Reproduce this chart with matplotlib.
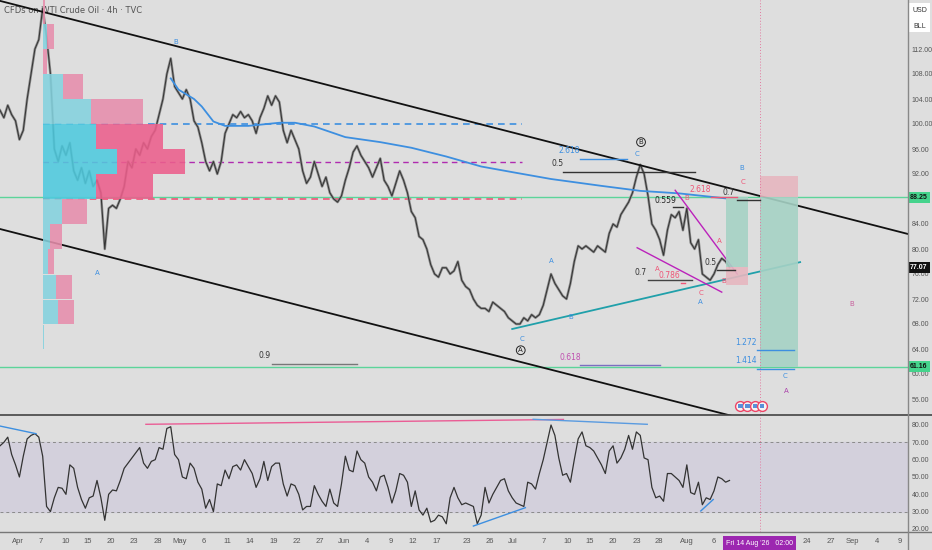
import numpy as np
import matplotlib.pyplot as plt
from matplotlib.patches import Rectangle
from matplotlib.lines import Line2D

BG = '#dedede'
NARROW = ['Liberation Sans Narrow', 'Liberation Sans', 'DejaVu Sans']

# price closes, one value every half trading day (x = 0.5 * index, in trading days)
close = [102.2, 101, 103, 101.5, 100.5, 97.5, 99, 104, 108, 112,
         113.5, 118.5, 114, 108, 96, 94, 96.5, 95, 97, 92.5,
         91, 93, 90.5, 92.5, 90, 91, 89, 80, 86.5, 87,
         86.5, 88, 90, 94, 93, 96, 95, 97, 96, 98,
         99, 101.5, 104, 108, 110.5, 106, 105, 104, 105.5, 104,
         100.5, 99.5, 97, 94, 92.5, 94, 92, 94, 98.5, 100,
         101.5, 101, 102, 101, 101.5, 100.5, 98.5, 101, 102.5, 104.5,
         103, 104.5, 103.5, 99, 97, 99, 97.5, 96, 92.5, 90.5,
         91.5, 94, 92, 90, 91.5, 89, 88, 87.5, 88.5, 91,
         93, 95.5, 96.5, 95, 94, 93, 91.5, 93, 94.5, 91,
         90, 88.5, 90.5, 92.5, 91, 89, 86, 85, 82, 81.5,
         80, 77.5, 76, 75.5, 77, 77, 76, 76.5, 78, 75,
         74, 73.5, 72, 71, 70.5, 70.5, 70, 71.5, 71, 70.5,
         70, 69, 68.5, 68, 68, 69, 68.5, 69.5, 69, 69.5,
         71, 73.5, 76, 74.5, 73.5, 72.5, 72, 74.5, 78, 80.5,
         80, 80.5, 80, 79.5, 80.5, 80, 79.5, 82.5, 84, 83.5,
         85.5, 86.5, 87.5, 89, 91.5, 93.5, 92, 88.5, 84, 83,
         81.5, 79, 83, 85.5, 85, 86, 83, 86.5, 81, 80,
         81.5, 76, 75.5, 75, 76, 77.5, 78.5, 78, 77.1]

rsi = [68, 70, 73, 63, 57, 50, 62, 72, 74, 75,
       73, 62, 33, 30, 38, 44, 43.5, 40, 57, 55,
       44, 37, 32, 38, 39, 48, 38, 25, 40, 42.5,
       42, 48, 55, 58, 61, 64, 67, 58, 55, 59,
       60, 67, 66, 78, 79, 63, 60, 50, 49, 58,
       55, 47, 43, 32, 37, 30, 46, 45, 54, 49,
       56, 57, 54, 60, 56, 52, 44, 49, 59, 48,
       56, 58, 58, 46, 39, 46, 45, 40, 31, 33,
       33, 45, 40, 36, 33, 43, 35, 33, 46, 62,
       54, 53, 65, 60, 58, 50, 47, 42, 50, 51,
       44, 35, 42, 52, 51, 47, 33, 42, 31, 28,
       32, 24, 25, 28, 27, 23, 38, 44, 38, 34,
       35, 34, 33, 23, 28, 44, 35, 40, 44, 48,
       49, 42, 38, 35, 34, 33, 47, 46, 43, 52,
       60, 70, 80, 74, 61, 51, 52, 47, 60, 72,
       76, 68, 67, 65, 61, 57, 52, 65, 68, 58,
       61, 66, 74, 66, 76, 74, 61, 60, 44, 38,
       39, 36, 52, 52, 50, 48, 44, 57, 41, 40,
       47, 34, 38, 37, 42, 50, 49, 47, 48]

# moving average (read at a few half-day indices)
ma_idx = [44, 46, 50, 52, 55, 58, 64, 72, 76, 81, 89, 98, 106, 115, 124, 132, 142, 155, 165, 175, 187]
ma_val = [107.3, 105.5, 104, 102.8, 100.4, 99.7, 99.7, 100.2, 100.2, 99.6, 97.9, 97.1,
          96.2, 94.8, 93.2, 92.3, 91.2, 90.1, 89.3, 88.9, 88.1]

# volume profile rows (bottom price of each 4-dollar row)
vp_low = [116, 112, 108, 104, 100, 96, 92, 88, 84, 80, 76, 72, 68, 64]
vp_up = [0.5, 4, 0.5, 20, 48, 53, 74, 53, 19, 7, 5, 13, 15, 1.5]
vp_down = [1.5, 7, 3.5, 20, 52, 67, 68, 57, 25, 12, 6, 16, 16, 0]

levels_green = [88.25, 61.16]
last_price = 77.07
price_ticks = [56, 60, 64, 68, 72, 76, 80, 84, 92, 96, 100, 104, 108, 112]

xt_pos = [2.3, 5.3, 8.4, 11.3, 14.3, 17.3, 20.4, 23.2, 26.3, 29.3, 32.2, 35.3, 38.3, 41.2,
          44.3, 47.3, 50.3, 53.2, 56.3, 60.2, 63.1, 66.1, 70.0, 73.1, 76.0, 79.0, 82.1, 84.9,
          88.5, 92.0, 104.0, 107.0, 109.9, 113.0, 116.0]
xt_lab = ['Apr', '7', '10', '15', '20', '23', '28', 'May', '6', '11', '14', '19', '22', '27',
          'Jun', '4', '9', '12', '17', '23', '26', 'Jul', '7', '10', '15', '20', '23', '28',
          'Aug', '6', '24', '27', 'Sep', '4', '9']

fig = plt.figure(figsize=(9.32, 5.5), dpi=100, facecolor=BG)
ax = fig.add_axes([0, 1 - 415 / 550, 908 / 932, 415 / 550], facecolor=BG)
axr = fig.add_axes([0, 1 - 532 / 550, 908 / 932, 117 / 550], facecolor=BG)
ax.set_xlim(0, 117)
ax.set_ylim(53.44, 119.84)
axr.set_xlim(0, 117)
axr.set_ylim(18.26, 85.77)
for a in (ax, axr):
    for s in a.spines.values():
        s.set_visible(False)

# ---- price pane
x = 0.5 * np.arange(len(close))
ax.plot(x, close, color='#8a8a8a', lw=1.8, zorder=3)
ax.plot(x, close, color='#333333', lw=0.7, zorder=3)
ax.plot(0.5 * np.array(ma_idx), ma_val, color='#3d8fe0', lw=1.3, zorder=4)

# channel
ax.plot([0, 117], [119.7, 82.4], color='#111', lw=1.3, zorder=5)
ax.plot([0, 117], [83.2, 46.1], color='#111', lw=1.3, zorder=5)

for lv in levels_green:
    ax.axhline(lv, color='#5cd49a', lw=1.0, zorder=2)

ax.plot([5.54, 67.3], [100, 100], color='#3d8fe0', lw=1.2, ls=(0, (4, 3)), zorder=2)
ax.plot([5.54, 67.3], [93.9, 93.9], color='#b02bb0', lw=1.0, ls=(0, (4, 3)), zorder=2)
ax.plot([5.54, 67.3], [88.0, 88.0], color='#ee5577', lw=1.2, ls=(0, (4, 3)), zorder=2)

# volume profile
for lo, up, dn in zip(vp_low, vp_up, vp_down):
    inside = 88 <= lo < 100
    cu = '#4fcade' if inside else '#84d2de'
    cd = '#ec5f8c' if inside else '#e78eac'
    ax.add_patch(Rectangle((5.54, lo + 0.08), up / 7.76, 3.84, fc=cu, ec='none', alpha=0.88, zorder=6))
    ax.add_patch(Rectangle((5.54 + up / 7.76, lo + 0.08), dn / 7.76, 3.84, fc=cd, ec='none', alpha=0.88, zorder=6))

# teal trendline and wedge
ax.plot([66.0, 103.1], [67.2, 77.9], color='#20a0aa', lw=1.3, zorder=5)
ax.plot([87.0, 95.0], [89.4, 76.0], color='#bb22bb', lw=1.0, zorder=5)
ax.plot([82.1, 93.0], [80.2, 73.1], color='#bb22bb', lw=1.0, zorder=5)

# position boxes
ax.add_patch(Rectangle((93.6, 77.1), 2.8, 88.25 - 77.1, fc='#a6d2c5', ec='none', alpha=0.9, zorder=6))
ax.add_patch(Rectangle((93.6, 74.2), 2.8, 77.1 - 74.2, fc='#e6b7bf', ec='none', alpha=0.9, zorder=6))
ax.add_patch(Rectangle((97.9, 61.16), 4.9, 88.25 - 61.16, fc='#a6d2c5', ec='none', alpha=0.9, zorder=6))
ax.add_patch(Rectangle((97.9, 88.25), 4.9, 91.7 - 88.25, fc='#e6b7bf', ec='none', alpha=0.9, zorder=6))
for a in (ax, axr):
    a.axvline(97.9, color='#e27aa0', lw=0.7, ls=(0, (1, 2)), zorder=7)

# fib segments: (x0, x1, y, color)
segs = [(72.6, 89.6, 92.3, '#333'), (74.7, 80.8, 94.4, '#3d8fe0'), (86.7, 88.0, 86.7, '#333'),
        (91.6, 95.0, 88.3, '#ee5577'), (95.0, 97.9, 87.8, '#333'), (83.5, 89.2, 75.0, '#444'),
        (87.8, 88.3, 74.6, '#ee5577'), (92.4, 94.7, 76.6, '#333'), (35.1, 46.0, 61.6, '#777'),
        (74.7, 85.1, 61.4, '#7b6fc0'), (97.6, 102.3, 63.8, '#3d8fe0'), (97.6, 102.3, 60.8, '#3d8fe0')]
for x0, x1, yv, c in segs:
    ax.plot([x0, x1], [yv, yv], color=c, lw=1.0, zorder=7)

fib_txt = [(71.9, 93.6, '0.5', '#333'), (73.4, 95.7, '2.618', '#3d8fe0'), (85.7, 87.8, '0.559', '#222'),
           (90.2, 89.6, '2.618', '#ee5577'), (93.9, 89.1, '0.7', '#333'), (82.5, 76.3, '0.7', '#333'),
           (86.3, 75.7, '0.786', '#ee5577'), (91.6, 77.9, '0.5', '#333'), (34.1, 62.9, '0.9', '#333'),
           (73.5, 62.6, '0.618', '#c050b0'), (96.1, 65.0, '1.272', '#3d8fe0'), (96.1, 62.2, '1.414', '#3d8fe0')]
for xx, yy, t, c in fib_txt:
    ax.text(xx, yy, t, color=c, fontsize=5.5, ha='center', va='center', zorder=8)

waves = [(22.6, 113.1, 'B', '#3d8fe0'), (12.6, 76.2, 'A', '#3d8fe0'), (67.3, 65.6, 'C', '#3d8fe0'),
         (82.1, 95.2, 'C', '#3d8fe0'), (71.0, 78.1, 'A', '#3d8fe0'), (73.5, 69.1, 'B', '#3d8fe0'),
         (84.7, 76.8, 'A', '#ee5577'), (88.5, 88.2, 'B', '#ee5577'), (92.7, 81.3, 'A', '#ee5577'),
         (90.3, 73.0, 'C', '#ee5577'), (90.3, 71.5, 'A', '#3d8fe0'), (93.2, 74.9, 'B', '#ee5577'),
         (95.6, 93.0, 'B', '#3d8fe0'), (95.7, 90.7, 'C', '#ee5577'), (109.7, 71.2, 'B', '#c8609e'),
         (101.2, 59.7, 'C', '#3d8fe0'), (101.3, 57.3, 'A', '#aa40aa')]
for xx, yy, t, c in waves:
    ax.text(xx, yy, t, color=c, fontsize=5, ha='center', va='center', zorder=8)

for xx, yy, t in [(67.1, 63.8, 'A'), (82.6, 97.1, 'B')]:
    ax.text(xx, yy, t, color='#222', fontsize=5, ha='center', va='center', zorder=8,
            bbox=dict(boxstyle='circle,pad=0.2', fc='none', ec='#222', lw=0.7))

# economic event icons
ev_x = [95.4, 96.3, 97.3, 98.2]
ax.scatter(ev_x, [54.9] * 4, s=50, marker='o', fc='#f4f4f4', ec='#ee4466', lw=1.0, zorder=9, clip_on=False)
ax.scatter(ev_x, [54.9] * 4, s=10, marker='s', fc='#5a8fd8', ec='none', zorder=10, clip_on=False)

# right axis
ax.set_yticks(price_ticks)
ax.set_yticklabels([f'{v:.2f}' for v in price_ticks], family=NARROW)
ax.yaxis.tick_right()
ax.tick_params(axis='y', length=0, pad=2.5, labelsize=5, labelcolor='#555')
ax.set_xticks([])

tr = ax.get_yaxis_transform()
for lv in levels_green:
    ax.text(1.012, lv, f'{lv:.2f}', transform=tr, fontsize=5, ha='center', va='center', family=NARROW,
            color='#111', fontweight='bold', zorder=20, clip_on=False,
            bbox=dict(boxstyle='square,pad=0.3', fc='#45d38c', ec='none'))
ax.text(1.012, last_price, f'{last_price:.2f}', transform=tr, fontsize=5, ha='center', va='center',
        family=NARROW, color='white', fontweight='bold', zorder=20, clip_on=False,
        bbox=dict(boxstyle='square,pad=0.3', fc='#111', ec='none'))

ax.text(0.004, 0.975, 'CFDs on WTI Crude Oil · 4h · TVC', transform=ax.transAxes,
        fontsize=6, color='#555', ha='left', va='center', zorder=1)

# ---- RSI pane
axr.axhspan(30, 70, color='#d3d0dc', zorder=0)
for lv in (70, 30):
    axr.axhline(lv, color='#8a8a8a', lw=0.7, ls=(0, (3, 3)), zorder=1)
axr.plot(x, rsi, color='#333', lw=0.9, zorder=3)
axr.plot([0, 4.64], [79.4, 75.0], color='#3d8fe0', lw=1.0, zorder=4)
axr.plot([18.8, 72.6], [80.4, 83.2], color='#ea5d95', lw=1.0, zorder=4)
axr.plot([68.7, 83.4], [83.3, 80.4], color='#5a9be0', lw=1.0, zorder=4)
axr.plot([61.0, 67.7], [21.7, 32.3], color='#3d8fe0', lw=1.0, zorder=4)
axr.plot([90.3, 91.9], [30.4, 37.0], color='#3d8fe0', lw=1.0, zorder=4)

axr.set_yticks(range(20, 81, 10))
axr.set_yticklabels([f'{v:.2f}' for v in range(20, 81, 10)], family=NARROW)
axr.yaxis.tick_right()
axr.tick_params(axis='y', length=0, pad=2.5, labelsize=5, labelcolor='#555')
axr.set_xticks(xt_pos)
axr.set_xticklabels(xt_lab, family=NARROW)
axr.tick_params(axis='x', length=0, pad=4, labelsize=5.5, labelcolor='#555')
axr.text(97.9, -0.065, "Fri 14 Aug '26   02:00", transform=axr.get_xaxis_transform(),
         fontsize=5, family=NARROW, color='white', ha='center', va='top', zorder=20, clip_on=False,
         bbox=dict(boxstyle='square,pad=0.45', fc='#9c27b0', ec='none'))

# pane separators
fig.add_artist(Line2D([0, 1], [1 - 415 / 550] * 2, color='#444', lw=1.2))
fig.add_artist(Line2D([0, 1], [1 - 532 / 550] * 2, color='#777', lw=1.0))
fig.add_artist(Line2D([908 / 932] * 2, [0, 1], color='#888', lw=1.0))

# currency / unit box
fig.add_artist(Rectangle((909 / 932, 1 - 32 / 550), 21 / 932, 29 / 550, transform=fig.transFigure,
                         fc='white', ec='none'))
fig.text(920 / 932, 1 - 10 / 550, 'USD', fontsize=5, color='#333', ha='center', va='center', family=NARROW)
fig.text(920 / 932, 1 - 26 / 550, 'BLL', fontsize=5, color='#333', ha='center', va='center', family=NARROW)

fig.savefig('out.png', dpi=100, facecolor=BG)
